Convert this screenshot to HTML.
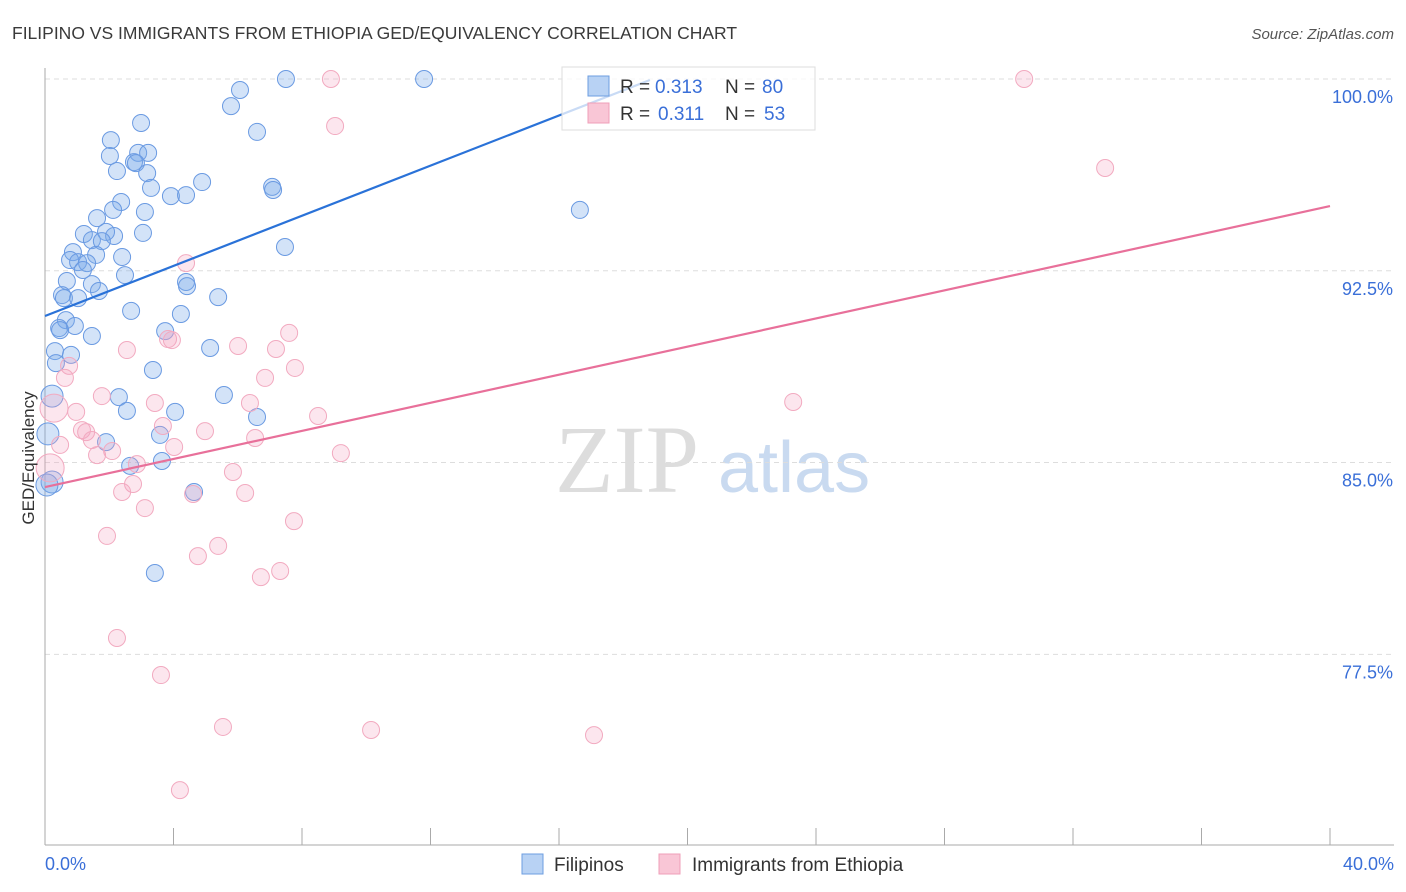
<!DOCTYPE html>
<html><head><meta charset="utf-8"><style>
body{margin:0;background:#fff;font-family:"Liberation Sans",sans-serif;}
svg{display:block}
</style></head><body>
<svg width="1406" height="892" xmlns="http://www.w3.org/2000/svg">
<text x="12" y="39" font-size="17.5" fill="#3a3a3a">FILIPINO VS IMMIGRANTS FROM ETHIOPIA GED/EQUIVALENCY CORRELATION CHART</text>
<text x="1394" y="39" font-size="15" fill="#555" font-style="italic" text-anchor="end">Source: ZipAtlas.com</text>
<g>
<text x="555" y="492" font-size="96" font-family="Liberation Serif,serif" fill="#ddd">ZIP</text>
<text x="718" y="492" font-size="72" fill="#c9daf0">atlas</text>
</g>
<g id="grid"></g>
<g id="axes"></g>
<g id="pts"></g>
<g id="lines"></g>
<text transform="translate(34,458) rotate(-90)" font-size="17" fill="#333" text-anchor="middle">GED/Equivalency</text>
<text x="45" y="870" font-size="18" fill="#3a6fd8">0.0%</text>
<text x="1394" y="870" font-size="18" fill="#3a6fd8" text-anchor="end">40.0%</text>
<g>
<rect x="562" y="67" width="253" height="63" fill="rgba(255,255,255,0.75)" stroke="#ddd"/>
<rect x="588" y="76" width="21" height="20" fill="#b8d2f4" stroke="#6d9ee0"/>
<rect x="588" y="103" width="21" height="20" fill="#f9c6d6" stroke="#ef9fb8"/>
<text y="93" font-size="19" fill="#333"><tspan x="620">R =</tspan><tspan x="655" fill="#3a6fd8">0.313</tspan><tspan x="725">N =</tspan><tspan x="762" fill="#3a6fd8">80</tspan></text>
<text y="120" font-size="19" fill="#333"><tspan x="620">R =</tspan><tspan x="658" fill="#3a6fd8">0.311</tspan><tspan x="725">N =</tspan><tspan x="764" fill="#3a6fd8">53</tspan></text>
</g>
<g>
<rect x="522" y="854" width="21" height="20" fill="#b8d2f4" stroke="#6d9ee0"/>
<text x="554" y="871" font-size="19" fill="#333">Filipinos</text>
<rect x="659" y="854" width="21" height="20" fill="#f9c6d6" stroke="#ef9fb8"/>
<text x="692" y="871" font-size="19" fill="#333">Immigrants from Ethiopia</text>
</g>
</svg>
<script>
const blueX=[7.5,11.8,6.07,5.79,2.99,6.6,2.05,2.02,2.9,3.21,2.77,2.83,2.24,3.18,3.3,4.89,3.92,4.39,7.07,7.1,2.37,2.12,3.11,1.62,16.65,1.21,3.05,2.15,1.9,1.46,1.77,0.87,7.47,1.59,2.4,0.78,1.03,1.31,1.18,2.49,0.68,1.46,4.39,4.42,1.68,0.53,0.59,1.03,5.39,2.68,4.23,0.65,0.44,0.93,0.47,3.74,1.46,0.31,0.81,5.14,0.34,3.36,0.22,2.3,5.57,2.55,4.05,6.6,0.09,1.9,3.58,2.65,3.64,0.22,0.06,4.64,3.42];
const blueY=[100,100,99.57,98.94,98.28,97.93,97.61,96.99,97.11,97.11,96.75,96.71,96.4,96.32,95.74,95.97,95.42,95.46,95.78,95.66,95.19,94.88,94.8,94.56,94.88,93.94,93.98,93.86,94.02,93.7,93.66,93.23,93.43,93.12,93.04,92.92,92.84,92.8,92.53,92.33,92.1,91.98,92.06,91.9,91.71,91.55,91.43,91.43,91.47,90.93,90.81,90.57,90.26,90.34,90.18,90.14,89.95,89.36,89.21,89.48,88.89,88.62,87.6,87.56,87.64,87.02,86.98,86.78,86.12,85.8,86.08,84.87,85.06,84.24,84.12,83.85,80.68];
const pinkX=[8.9,30.48,9.03,33.0,4.39,7.6,3.83,2.55,6.01,7.19,3.95,0.75,0.62,7.78,6.85,1.77,0.28,3.42,0.97,6.38,8.5,23.29,4.98,1.15,1.28,1.46,3.67,6.54,0.47,2.09,1.62,4.02,9.21,0.16,2.86,5.85,2.74,2.4,6.23,4.61,3.11,7.75,1.93,5.39,4.76,7.32,6.72,2.24,3.61,5.54,10.15,17.09,4.2];
const pinkY=[100,100,98.16,96.52,92.8,90.07,89.83,89.4,89.56,89.44,89.79,88.78,88.31,88.7,88.31,87.6,87.13,87.33,86.98,87.33,86.82,87.37,86.23,86.27,86.19,85.88,86.43,85.96,85.69,85.45,85.29,85.61,85.37,84.79,84.94,84.63,84.16,83.85,83.81,83.77,83.22,82.71,82.13,81.74,81.34,80.76,80.52,78.14,76.69,74.66,74.54,74.34,72.19];
const blueTrend=[90.73,99.96]; const blueTrendX=[0,18.83];
const pinkTrend=[84.04,95.03]; const pinkTrendX=[0,40];
const yTicks=[100,92.5,85,77.5];
const yTickLabels=["100.0%","92.5%","85.0%","77.5%"];
const xTicks=[0,4,8,12,16,20,24,28,32,36,40];
const NS="http://www.w3.org/2000/svg";
const X=v=>45+v/40*1285, Y=v=>79+(100-v)*25.57;
function mk(t,a,p){const e=document.createElementNS(NS,t);for(const k in a)e.setAttribute(k,a[k]);document.getElementById(p).appendChild(e);return e;}
yTicks.forEach((t,i)=>{
 const l=mk('line',{x1:45,x2:1394,y1:Y(t),y2:Y(t),stroke:'#ddd','stroke-dasharray':'5,4'},'grid');
 
 
 const tx=mk('text',{x:1393,y:Y(t)+24,'font-size':18,fill:'#3a6fd8','text-anchor':'end'},'grid');
 tx.textContent=yTickLabels[i];
 
 
});
const ya=mk('line',{x1:45,x2:45,y1:68,y2:845,stroke:'#aaa'},'axes');


const xa=mk('line',{x1:45,x2:1394,y1:845,y2:845,stroke:'#aaa'},'axes');


xTicks.forEach(t=>{const l=mk('line',{x1:X(t),x2:X(t),y1:828,y2:845,stroke:'#aaa'},'axes');
 
 });
blueX.forEach((v,i)=>{const c=mk('circle',{cx:X(v),cy:Y(blueY[i]),r:(v<0.3?11:8.5),fill:'rgba(120,170,235,0.33)',stroke:'#6a9ae2','stroke-width':1},'pts');
 
 });
pinkX.forEach((v,i)=>{const c=mk('circle',{cx:X(v),cy:Y(pinkY[i]),r:(v<0.3?14:8.5),fill:'rgba(245,165,195,0.28)',stroke:'#f2aac0','stroke-width':1},'pts');
 
 });
const bl=mk('line',{x1:X(blueTrendX[0]),y1:Y(blueTrend[0]),x2:X(blueTrendX[1]),y2:Y(blueTrend[1]),stroke:'#2a72d8','stroke-width':2.2},'lines');


const pl=mk('line',{x1:X(pinkTrendX[0]),y1:Y(pinkTrend[0]),x2:X(pinkTrendX[1]),y2:Y(pinkTrend[1]),stroke:'#e8709a','stroke-width':2.2},'lines');


</script>
</body></html>
